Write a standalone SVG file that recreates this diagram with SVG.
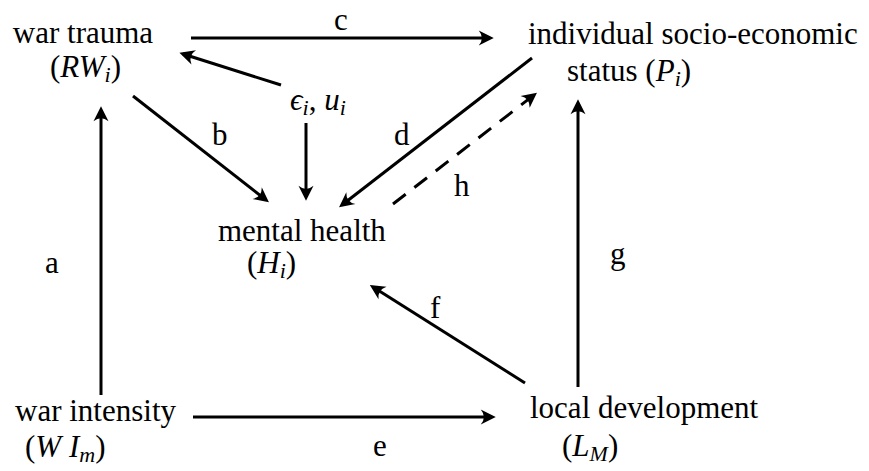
<svg xmlns="http://www.w3.org/2000/svg" width="869" height="471" viewBox="0 0 869 471">
<style>
text{font-family:"Liberation Serif","Times New Roman",serif;font-size:31px;fill:#000}
.m{font-style:italic}
.s{font-size:22px;font-style:italic}
.e{stroke:#000;stroke-width:3;fill:none}
.d{stroke-dasharray:16 11}
</style>
<defs>
<marker id="ah" markerUnits="userSpaceOnUse" markerWidth="20" markerHeight="20" viewBox="-12 -8 16 16" refX="0" refY="0" orient="auto">
<path d="M3,0 L-9,-6 Q-4,0 -9,6 Z" fill="#000"/>
</marker>
</defs>
<rect width="869" height="471" fill="#fff"/>
<g id="connectors">
<line class="e" x1="191" y1="38" x2="490" y2="38" marker-end="url(#ah)"/>
<line class="e" x1="281" y1="85" x2="183" y2="54" marker-end="url(#ah)"/>
<line class="e" x1="133" y1="96" x2="266" y2="200" marker-end="url(#ah)"/>
<line class="e" x1="306" y1="123" x2="306" y2="197" marker-end="url(#ah)"/>
<line class="e" x1="532" y1="58" x2="342" y2="205" marker-end="url(#ah)"/>
<line class="e d" x1="393" y1="204" x2="534" y2="95" marker-end="url(#ah)"/>
<line class="e" x1="101" y1="395" x2="101" y2="110" marker-end="url(#ah)"/>
<line class="e" x1="578" y1="387" x2="578" y2="103" marker-end="url(#ah)"/>
<line class="e" x1="525" y1="383" x2="373" y2="287" marker-end="url(#ah)"/>
<line class="e" x1="193" y1="417" x2="492" y2="417" marker-end="url(#ah)"/>
</g>
<g id="labels">
<text x="334" y="30">c</text>
<text x="212" y="145">b</text>
<text x="394" y="145">d</text>
<text x="454" y="196">h</text>
<text x="45" y="273">a</text>
<text x="610" y="264">g</text>
<text x="430" y="318">f</text>
<text x="373" y="456">e</text>
</g>
<g id="war-trauma">
<text x="83" y="43" text-anchor="middle">war trauma</text>
<text x="50" y="77">(<tspan class="m">RW</tspan><tspan class="s" dy="5">i</tspan><tspan dy="-5">)</tspan></text>
</g>
<g id="ses">
<text x="528" y="44">individual socio-economic</text>
<text x="567" y="81">status (<tspan class="m">P</tspan><tspan class="s" dy="5">i</tspan><tspan dy="-5">)</tspan></text>
</g>
<g id="errors">
<text x="290" y="110"><tspan class="m">ϵ</tspan><tspan class="s" dy="5">i</tspan><tspan dy="-5">, </tspan><tspan class="m">u</tspan><tspan class="s" dy="5">i</tspan></text>
</g>
<g id="mental-health">
<text x="218" y="241">mental health</text>
<text x="247" y="273">(<tspan class="m">H</tspan><tspan class="s" dy="5">i</tspan><tspan dy="-5">)</tspan></text>
</g>
<g id="war-intensity">
<text x="15" y="421">war intensity</text>
<text x="25" y="457">(<tspan class="m">W I</tspan><tspan class="s" dy="5">m</tspan><tspan dy="-5">)</tspan></text>
</g>
<g id="local-development">
<text x="530" y="418">local development</text>
<text x="562" y="456">(<tspan class="m">L</tspan><tspan class="s" dy="5">M</tspan><tspan dy="-5">)</tspan></text>
</g>
</svg>
